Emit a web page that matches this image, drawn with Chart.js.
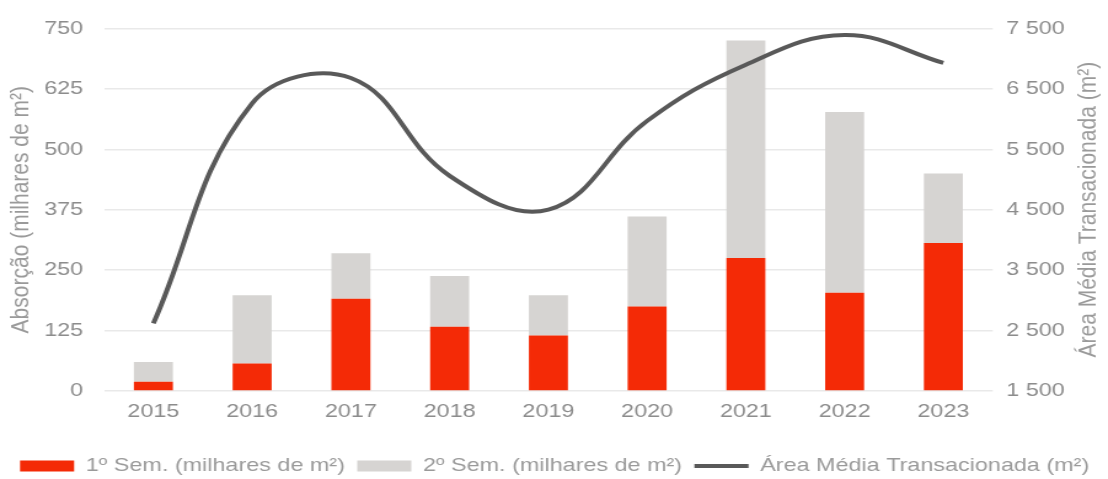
<!DOCTYPE html>
<html lang="pt">
<head>
<meta charset="utf-8">
<script src="https://cdn.jsdelivr.net/npm/chart.js@4/dist/chart.umd.min.js"></script>
<style>
  html, body { margin: 0; padding: 0; background: #ffffff; overflow: hidden; }
  /* The chart is laid out at a narrower width and widened horizontally */
  #wrap { width: 901px; height: 479px; transform: scaleX(1.2297); transform-origin: 0 0; }
</style>
</head>
<body>
<div id="wrap"><canvas id="chart"></canvas></div>
<script>
// Years on the category axis
const years = ['2015', '2016', '2017', '2018', '2019', '2020', '2021', '2022', '2023'];
// Absorption in the first half of each year (thousand m²)
const firstHalf = [19, 57, 191, 133, 115, 175, 275, 203, 306];
// Absorption in the second half of each year (thousand m²)
const secondHalf = [41, 141, 94, 105, 83, 186, 450, 374, 144];
// Average transacted area (m²)
const avgArea = [2620, 6260, 6680, 5060, 4500, 5970, 6900, 7390, 6930];

// Left and right axis tick values
const leftTicks = [0, 125, 250, 375, 500, 625, 750];
const rightTicks = [1500, 2500, 3500, 4500, 5500, 6500, 7500];

const FONT = 'Liberation Sans, Arial, sans-serif';
const TICK_COLOR = '#8c8c8c';
const TITLE_COLOR = '#9a9a9a';
const RIGHT_TITLE = 'Área Média Transacionada (m²)';
const LEGEND_ORDER = ['1º Sem. (milhares de m²)', '2º Sem. (milhares de m²)', 'Área Média Transacionada (m²)'];

const fmtSpace = v => String(v).replace(/\B(?=(\d{3})+(?!\d))/g, ' ');

// Right-hand axis title, reading bottom to top
const rightTitle = {
  id: 'rightTitle',
  afterDraw(chart) {
    const {ctx, chartArea} = chart;
    ctx.save();
    ctx.font = '21px ' + FONT;
    ctx.fillStyle = TITLE_COLOR;
    ctx.textAlign = 'center';
    ctx.textBaseline = 'middle';
    ctx.translate(885, (chartArea.top + chartArea.bottom) / 2);
    ctx.rotate(-Math.PI / 2);
    ctx.fillText(RIGHT_TITLE, 0, 0);
    ctx.restore();
  }
};

new Chart(document.getElementById('chart'), {
  data: {
    labels: years,
    datasets: [
      {
        type: 'line',
        label: 'Área Média Transacionada (m²)',
        data: avgArea,
        yAxisID: 'y1',
        borderColor: '#595959',
        backgroundColor: '#595959',
        borderWidth: 4,
        pointRadius: 0,
        pointHoverRadius: 0,
        pointStyle: 'line',
        tension: 0.4,
        order: 0
      },
      {
        type: 'bar',
        label: '1º Sem. (milhares de m²)',
        data: firstHalf,
        yAxisID: 'y',
        backgroundColor: '#f42a06',
        borderWidth: 0,
        pointStyle: 'rect',
        barPercentage: 0.395,
        categoryPercentage: 1,
        order: 1
      },
      {
        type: 'bar',
        label: '2º Sem. (milhares de m²)',
        data: secondHalf,
        yAxisID: 'y',
        backgroundColor: '#d6d4d2',
        borderWidth: 0,
        pointStyle: 'rect',
        barPercentage: 0.395,
        categoryPercentage: 1,
        order: 2
      }
    ]
  },
  options: {
    responsive: true,
    maintainAspectRatio: false,
    animation: false,
    layout: { padding: { left: 1, right: 0, top: 27, bottom: -6.5 } },
    plugins: {
      tooltip: { enabled: false },
      legend: {
        position: 'bottom',
        labels: {
          usePointStyle: true,
          pointStyleWidth: 44,
          boxHeight: 11,
          padding: 10,
          color: TITLE_COLOR,
          font: { family: FONT, size: 19 },
          sort: (a, b) => LEGEND_ORDER.indexOf(a.text) - LEGEND_ORDER.indexOf(b.text)
        }
      }
    },
    scales: {
      x: {
        stacked: true,
        grid: { display: false, drawTicks: false },
        border: { display: false },
        ticks: { color: TICK_COLOR, font: { family: FONT, size: 19 }, padding: 9 },
        afterFit: s => { s.height = 55.5; }
      },
      y: {
        position: 'left',
        stacked: true,
        min: 0,
        max: 750,
        afterBuildTicks: s => { s.ticks = leftTicks.map(v => ({ value: v })); },
        grid: { color: '#e9e9e9', lineWidth: 1.5, drawTicks: false },
        border: { display: false },
        ticks: { color: TICK_COLOR, font: { family: FONT, size: 19 }, padding: 17 },
        title: {
          display: true,
          text: 'Absorção (milhares de m²)',
          color: TITLE_COLOR,
          font: { family: FONT, size: 21 }
        },
        afterFit: s => { s.width = 83.6; }
      },
      y1: {
        position: 'right',
        stacked: false,
        min: 1500,
        max: 7500,
        afterBuildTicks: s => { s.ticks = rightTicks.map(v => ({ value: v })); },
        grid: { display: false, drawTicks: false },
        border: { display: false },
        ticks: { color: TICK_COLOR, font: { family: FONT, size: 19 }, padding: 11, callback: v => fmtSpace(v) },
        afterFit: s => { s.width = 93.7; }
      }
    }
  },
  plugins: [rightTitle]
});
</script>
</body>
</html>
